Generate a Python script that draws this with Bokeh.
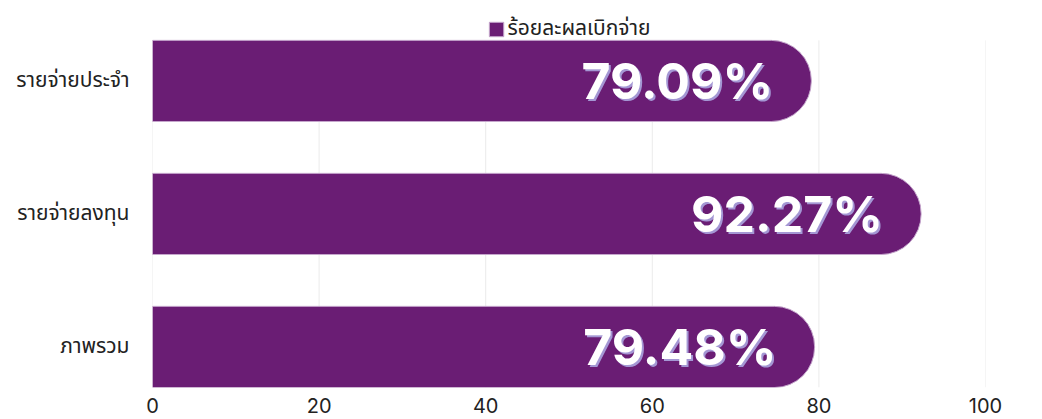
from bokeh.plotting import figure
from bokeh.models import ColumnDataSource, FixedTicker, Legend, LegendItem, Range1d
from bokeh.core.properties import value
from bokeh.embed import file_html
from bokeh.resources import INLINE

categories = ["รายจ่ายประจำ", "รายจ่ายลงทุน", "ภาพรวม"]
values = [79.09, 92.27, 79.48]
series_name = "ร้อยละผลเบิกจ่าย"
x_ticks = [0, 20, 40, 60, 80, 100]

BAR = "#6a1d74"
THAI = "Noto Sans Thai, Noto Sans"
n = len(categories)
ypos = [n - 1 - i for i in range(n)]
labels = [f"{v:.2f}%" for v in values]

src = ColumnDataSource(dict(y=ypos, v=values, lab=labels, cat=categories))

bar_h = 0.61
y0 = -bar_h / 2
y_top_grid = n - 1 + bar_h / 2
p = figure(frame_width=833, frame_height=379, output_backend="svg", toolbar_location=None,
           x_range=Range1d(0, 100), y_range=Range1d(y0, y0 + 379 / 133),
           min_border_left=152, min_border_right=57, min_border_top=8, min_border_bottom=32)
p.outline_line_color = None
p.background_fill_color = "white"
p.border_fill_color = "white"
p.xgrid.grid_line_color = None
p.ygrid.grid_line_color = None

p.segment(x0=x_ticks, y0=[y0] * len(x_ticks), x1=x_ticks, y1=[y_top_grid] * len(x_ticks),
          line_color="#ebebeb", line_width=1, level="underlay")

r = p.hbar(y="y", right="v", left=0, height=bar_h, source=src, fill_color=BAR,
           line_color="#c5a6cc", line_width=1, border_radius=(0, 40, 40, 0))

p.text(x="v", y="y", text="lab", source=src, x_offset=-36, y_offset=2,
       text_align="right", text_baseline="middle", text_color="#a497d4",
       text_font=value("Inter"), text_font_style="bold", text_font_size="50px")
p.text(x="v", y="y", text="lab", source=src, x_offset=-38, y_offset=0,
       text_align="right", text_baseline="middle", text_color="white",
       text_font=value("Inter"), text_font_style="bold", text_font_size="50px")

p.xaxis.ticker = FixedTicker(ticks=x_ticks)
p.xaxis.axis_line_color = None
p.xaxis.major_tick_line_color = None
p.xaxis.minor_tick_line_color = None
p.xaxis.major_label_text_font = "Inter"
p.xaxis.major_label_text_font_size = "20px"
p.xaxis.major_label_text_color = "#222222"
p.xaxis.major_label_standoff = 4

p.yaxis.ticker = FixedTicker(ticks=ypos)
p.yaxis.major_label_overrides = {yy: c for yy, c in zip(ypos, categories)}
p.yaxis.axis_line_color = None
p.yaxis.major_tick_line_color = None
p.yaxis.minor_tick_line_color = None
p.yaxis.major_label_text_font = THAI
p.yaxis.major_label_text_font_size = "21px"
p.yaxis.major_label_text_color = "#222222"
p.yaxis.major_label_standoff = 17

legend = Legend(items=[LegendItem(label=series_name, renderers=[r])],
                orientation="horizontal", location="top_center",
                glyph_width=18, glyph_height=18, label_text_font=THAI,
                label_text_font_size="21px", label_text_color="#222222",
                padding=0, margin=5, spacing=4, label_standoff=3,
                border_line_color=None, background_fill_alpha=0)
p.add_layout(legend, "center")

open("out.html", "w").write(file_html(p, INLINE))
